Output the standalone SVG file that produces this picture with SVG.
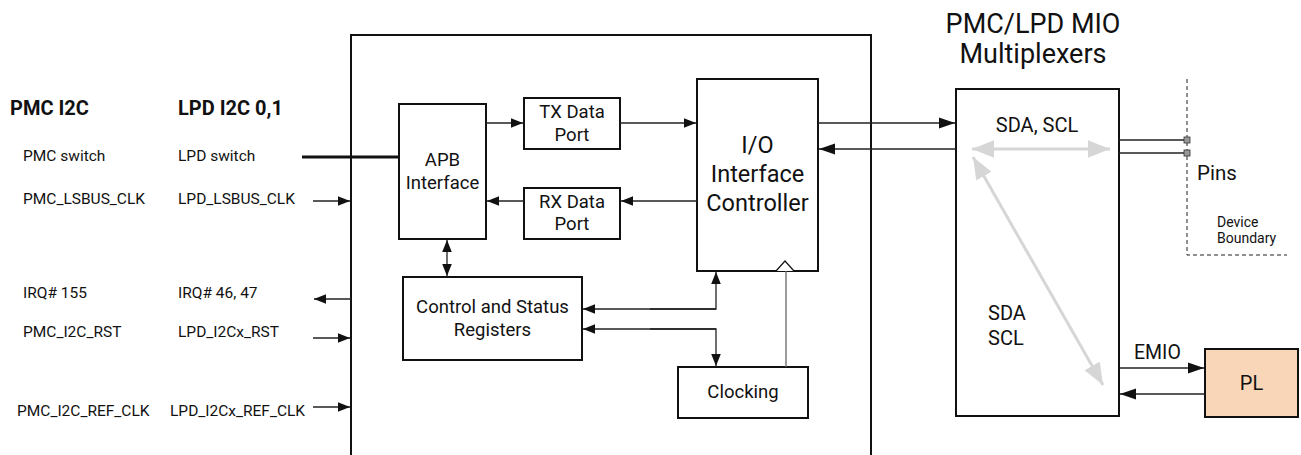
<svg xmlns="http://www.w3.org/2000/svg" width="1301" height="455" viewBox="0 0 1301 455">
<defs>
<style>
text{font-family:Roboto,"Liberation Sans",sans-serif;fill:#111}
.box{fill:#fff;stroke:#111;stroke-width:2}
.ln{fill:none;stroke:#222;stroke-width:1.3}
.g{fill:none;stroke:#d6d6d6;stroke-width:3}
.s{font-size:15.5px}
.m{font-size:18.5px}
.h{font-size:20px;font-weight:bold}
</style>
<marker id="a" viewBox="0 0 10 10" refX="10" refY="5" markerWidth="12" markerHeight="12" markerUnits="userSpaceOnUse" orient="auto"><path d="M0,1L10,5L0,9z" fill="#111"/></marker>
<marker id="ab" viewBox="0 0 10 10" refX="10" refY="5" markerWidth="16" markerHeight="16" markerUnits="userSpaceOnUse" orient="auto"><path d="M0,1.5L10,5L0,8.5z" fill="#111"/></marker>
<marker id="gs" viewBox="0 0 10 10" refX="10" refY="5" markerWidth="22" markerHeight="22" markerUnits="userSpaceOnUse" orient="auto-start-reverse"><path d="M0,1L10,5L0,9z" fill="#d6d6d6"/></marker>
</defs>
<g id="labels">
<text class="h" x="10" y="115">PMC I2C</text>
<text class="h" x="178" y="115">LPD I2C 0,1</text>
<text class="s" x="23" y="161">PMC switch</text>
<text class="s" x="178" y="161">LPD switch</text>
<text class="s" x="23" y="204">PMC_LSBUS_CLK</text>
<text class="s" x="178" y="204">LPD_LSBUS_CLK</text>
<text class="s" x="23" y="298">IRQ# 155</text>
<text class="s" x="178" y="298">IRQ# 46, 47</text>
<text class="s" x="23" y="337">PMC_I2C_RST</text>
<text class="s" x="178" y="337">LPD_I2Cx_RST</text>
<text class="s" x="17" y="416">PMC_I2C_REF_CLK</text>
<text class="s" x="170" y="416">LPD_I2Cx_REF_CLK</text>
<text x="1033" y="33" font-size="27" text-anchor="middle">PMC/LPD MIO</text>
<text x="1033" y="63" font-size="27" text-anchor="middle">Multiplexers</text>
<text x="1197" y="180" font-size="20.5">Pins</text>
<text x="1217" y="227" font-size="14">Device</text>
<text x="1217" y="243" font-size="14">Boundary</text>
<text x="1134" y="359" font-size="19.5">EMIO</text>
</g>
<g id="i2c">
<path d="M351,455V35H871V455" fill="none" stroke="#111" stroke-width="2"/>
</g>
<g id="mux">
<rect class="box" x="956" y="89" width="163" height="327"/>
<text x="1037" y="132" font-size="20" text-anchor="middle">SDA, SCL</text>
<text x="988" y="320" font-size="20">SDA</text>
<text x="988" y="345" font-size="20">SCL</text>
</g>
<g id="apb"><rect class="box" x="399" y="104" width="87" height="135"/><text class="m" x="442.5" y="166" text-anchor="middle">APB</text><text class="m" x="442.5" y="189" text-anchor="middle">Interface</text></g>
<g id="tx"><rect class="box" x="524" y="98" width="96" height="51"/><text class="m" x="572" y="118" text-anchor="middle">TX Data</text><text class="m" x="572" y="141" text-anchor="middle">Port</text></g>
<g id="rx"><rect class="box" x="524" y="188" width="96" height="51"/><text class="m" x="572" y="208" text-anchor="middle">RX Data</text><text class="m" x="572" y="230" text-anchor="middle">Port</text></g>
<g id="ioc"><rect class="box" x="697" y="79" width="121" height="192"/><text x="757.5" y="153" font-size="23.5" text-anchor="middle">I/O</text><text x="757.5" y="182" font-size="23.5" text-anchor="middle">Interface</text><text x="757.5" y="211" font-size="23.5" text-anchor="middle">Controller</text></g>
<g id="csr"><rect class="box" x="403" y="277" width="179" height="83"/><text class="m" x="492.5" y="313" text-anchor="middle">Control and Status</text><text class="m" x="492.5" y="336" text-anchor="middle">Registers</text></g>
<g id="clk"><rect class="box" x="678" y="367" width="130" height="51"/><text class="m" x="743" y="398" text-anchor="middle">Clocking</text></g>
<g id="pl"><rect x="1205" y="349" width="93" height="68" fill="#fad6b8" stroke="#111" stroke-width="2"/><text x="1251.5" y="390" font-size="20" text-anchor="middle">PL</text></g>
<g id="connectors">
<line x1="302" y1="157" x2="399" y2="157" stroke="#111" stroke-width="3"/>
<line class="ln" x1="313" y1="201" x2="350" y2="201" marker-end="url(#a)"/>
<line class="ln" x1="351" y1="299" x2="314" y2="299" marker-end="url(#a)"/>
<line class="ln" x1="313" y1="338" x2="350" y2="338" marker-end="url(#a)"/>
<line class="ln" x1="313" y1="407" x2="350" y2="407" marker-end="url(#a)"/>
<line class="ln" x1="486" y1="123" x2="523" y2="123" marker-end="url(#a)"/>
<line class="ln" x1="620" y1="123" x2="696" y2="123" marker-end="url(#a)"/>
<line class="ln" x1="697" y1="201" x2="621" y2="201" marker-end="url(#a)"/>
<line class="ln" x1="524" y1="201" x2="487" y2="201" marker-end="url(#a)"/>
<line class="ln" x1="447" y1="258" x2="447" y2="240" marker-end="url(#a)"/>
<line class="ln" x1="447" y1="258" x2="447" y2="276" marker-end="url(#a)"/>
<path class="ln" d="M716,309H583" marker-end="url(#a)"/>
<path class="ln" d="M650,309H716V272" marker-end="url(#a)"/>
<path class="ln" d="M716,329H583" marker-end="url(#a)"/>
<path class="ln" d="M650,329H716V366" marker-end="url(#a)"/>
<line x1="786" y1="367" x2="786" y2="271" stroke="#666" stroke-width="1.3"/>
<path d="M776,271L785,261L794,271" fill="#fff" stroke="#111" stroke-width="1.2"/>
<line class="ln" x1="818" y1="123" x2="955" y2="123" marker-end="url(#ab)"/>
<line class="ln" x1="956" y1="149" x2="819" y2="149" marker-end="url(#ab)"/>
<line class="g" x1="972" y1="149" x2="1110" y2="149" marker-start="url(#gs)" marker-end="url(#gs)"/>
<line class="g" x1="973" y1="157" x2="1103" y2="385" marker-start="url(#gs)" marker-end="url(#gs)"/>
<line class="ln" x1="1119" y1="140" x2="1187" y2="140"/>
<line class="ln" x1="1119" y1="153" x2="1187" y2="153"/>
<path d="M1187,79V255H1287" fill="none" stroke="#222" stroke-width="1" stroke-dasharray="4,3"/>
<rect x="1184" y="137" width="6" height="6" fill="#999" stroke="#333" stroke-width="0.8"/>
<rect x="1184" y="150" width="6" height="6" fill="#999" stroke="#333" stroke-width="0.8"/>
<line class="ln" x1="1119" y1="368" x2="1204" y2="368" marker-end="url(#ab)"/>
<line class="ln" x1="1205" y1="394" x2="1120" y2="394" marker-end="url(#ab)"/>
</g>
</svg>
